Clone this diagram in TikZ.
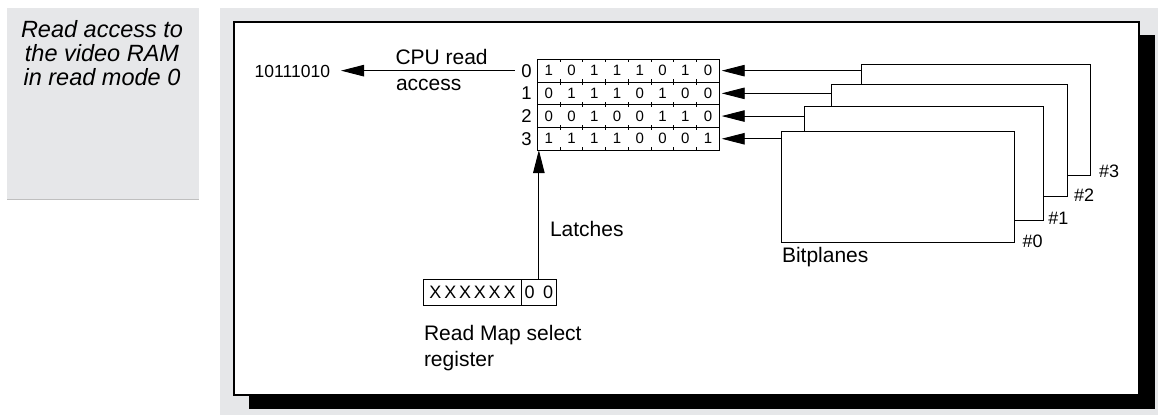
\documentclass[tikz,border=0pt]{standalone}
\usepackage{fontspec}
\setmainfont{Liberation Sans}
\usetikzlibrary{arrows.meta}
\definecolor{panel}{RGB}{230,231,233}
\begin{document}
\begin{tikzpicture}[x=1pt,y=-1pt,
  every node/.style={inner sep=0pt, outer sep=0pt},
  lbl/.style={font=\fontsize{21}{26}\selectfont, anchor=base west},
  ttl/.style={font=\fontsize{23.5}{24}\selectfont\itshape, anchor=base},
  arr/.style={line width=0.9pt, -{Triangle[length=23pt,width=11.5pt]}},
  plane/.style={draw, fill=white, line width=0.9pt, anchor=north west},
  rowbox/.style={draw, line width=0.9pt, minimum width=182pt, minimum height=22.7pt, anchor=north west},
  bit/.style={font=\fontsize{15}{15}\selectfont},
  rowlbl/.style={font=\fontsize{18.5}{18.5}\selectfont, anchor=east},
  hashlbl/.style={font=\fontsize{18}{18}\selectfont, anchor=base west},
  regbox/.style={draw, line width=0.9pt, minimum height=25.7pt, anchor=north west, font=\fontsize{18}{18}\selectfont},
  tick/.style={line width=0.8pt}
]
\useasboundingbox (0,0) rectangle (1158,416);
\fill[white] (0,0) rectangle (1158,416);
% side panel
\fill[panel] (7,8) rectangle (199,199);
\draw[gray!50, line width=0.6pt] (7,199) -- (199,199);
\node[ttl] (t1) at (102,37) {Read access to};
\node[ttl] (t2) at (102,61) {the video RAM};
\node[ttl] (t3) at (102,85) {in read mode 0};
% main panel
\fill[panel] (220,8) rectangle (1158,415);
\fill[black] (249,35) rectangle (1155,409);
\filldraw[fill=white, draw=black, line width=1.2pt] (234,22) rectangle (1139,395);

% bitplanes (back to front)
\node[plane, minimum width=229.5pt, minimum height=110.7pt] (p3) at (861,64.3) {};
\node[plane, minimum width=235.8pt, minimum height=112.4pt] (p2) at (831.7,84.3) {};
\node[plane, minimum width=239.4pt, minimum height=113.3pt] (p1) at (804.3,106.7) {};
\node[plane, minimum width=233pt, minimum height=111pt] (p0) at (781,131) {};
\node[hashlbl] (h0) at (1022.7,247.3) {\#0};
\node[hashlbl] (h1) at (1048.3,224) {\#1};
\node[hashlbl] (h2) at (1074,201.7) {\#2};
\node[hashlbl] (h3) at (1099,177.3) {\#3};
\node[lbl] (bitp) at (782,262) {Bitplanes};

% latch rows
\foreach \i in {0,...,3} {
  \node[rowbox] (row\i) at (537.3,{59.3+22.7*\i}) {};
  \node[rowlbl] (l\i) at ([xshift=-5.6pt]row\i.west) {\i};
  \foreach \j in {1,...,7} {
    \draw[tick] ({537.3+22.75*\j},{59.3+22.7*\i}) -- ++(0,2.7);
    \draw[tick] ({537.3+22.75*\j},{59.3+22.7*(\i+1)}) -- ++(0,-2.7);
  }
}
\foreach \b [count=\j from 0] in {1,0,1,1,1,0,1,0}
  \node[bit] (b0\j) at ({537.3+22.75*(\j+0.5)},{59.3+22.7*0.5}) {\b};
\foreach \b [count=\j from 0] in {0,1,1,1,0,1,0,0}
  \node[bit] (b1\j) at ({537.3+22.75*(\j+0.5)},{59.3+22.7*1.5}) {\b};
\foreach \b [count=\j from 0] in {0,0,1,0,0,1,1,0}
  \node[bit] (b2\j) at ({537.3+22.75*(\j+0.5)},{59.3+22.7*2.5}) {\b};
\foreach \b [count=\j from 0] in {1,1,1,1,0,0,0,1}
  \node[bit] (b3\j) at ({537.3+22.75*(\j+0.5)},{59.3+22.7*3.5}) {\b};

% arrows from planes to latches
\draw[arr] (p3.west |- row0.east) -- ([xshift=2.4pt]row0.east);
\draw[arr] (p2.west |- row1.east) -- ([xshift=2.4pt]row1.east);
\draw[arr] (p1.west |- row2.east) -- ([xshift=2.4pt]row2.east);
\draw[arr] (p0.west |- row3.east) -- ([xshift=2.4pt]row3.east);

% CPU read access
\node[font=\fontsize{17.5}{17.5}\selectfont, anchor=east] (out) at (330,71) {10111010};
\coordinate (outtip) at ([xshift=11pt]out.east);
\coordinate (cpustart) at ([xshift=-6.5pt]l0.west);
\draw[arr] (cpustart) -- (outtip |- cpustart);
\node[lbl] (cpu1) at (395.5,64) {CPU read};
\node[lbl] (cpu2) at (396,90) {access};

% read map select register
\node[regbox, minimum width=98.4pt] (reg1) at (423.3,279.3) {X\kern2.8pt X\kern2.8pt X\kern2.8pt X\kern2.8pt X\kern2.8pt X};
\node[regbox, minimum width=34.3pt] (reg2) at (reg1.north east) {0\kern8.5pt 0};
\draw[arr] (reg2.north) -- (reg2.north |- row3.south);
\node[lbl] (latch) at (550,236) {Latches};
\node[lbl] (rms1) at (424,340) {Read Map select};
\node[lbl] (rms2) at (424,366) {register};
\end{tikzpicture}
\end{document}
